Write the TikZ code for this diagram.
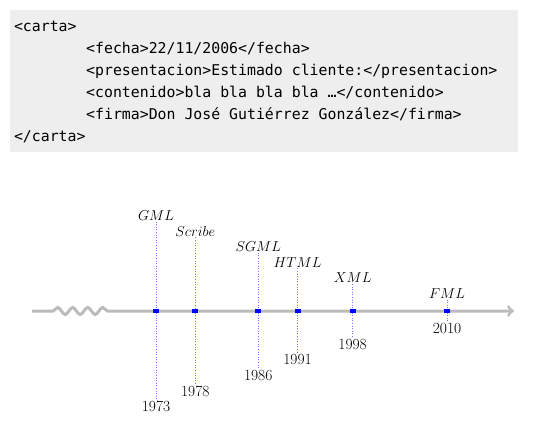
\documentclass[tikz,border=0pt]{standalone}
\usepackage{fontspec}
\setmonofont{DejaVu Sans Mono}
\usetikzlibrary{decorations.pathmorphing}
\definecolor{codebg}{HTML}{EEEEEE}
\definecolor{axisgray}{HTML}{BBBBBB}

\def\yAxis{311}
\def\xStart{32}
\def\xEnd{514}

\begin{document}
\begin{tikzpicture}[x=1pt, y=-1pt,
    codeline/.style={anchor=base west, inner sep=0pt, font=\fontsize{14.85}{18}\ttfamily},
    lang/.style={inner sep=1pt, font=\fontsize{15.5}{18}\selectfont},
    year/.style={inner sep=1pt, font=\fontsize{15.5}{18}\selectfont},
    tickline/.style={blue!55, dotted, line width=0.6pt}]
        \useasboundingbox (0,0) rectangle (555,439);
        % code block
        \fill[codebg] (10,10) rectangle (518,152);
        \node[codeline] (carta) at (13.8,31) {<carta>};
        \node[codeline] (fecha) at (86,53) {<fecha>22/11/2006</fecha>};
        \node[codeline] (pres) at (86,75) {<presentacion>Estimado cliente:</presentacion>};
        \node[codeline] (cont) at (86,97) {<contenido>bla bla bla bla …</contenido>};
        \node[codeline] (firma) at (86,119) {<firma>Don José Gutiérrez González</firma>};
        \node[codeline] (fin) at (13.8,141) {</carta>};
        % timeline
        \draw[axisgray, line width=3pt, ->] (\xStart,\yAxis) -- (53,\yAxis)
            decorate[decoration={snake, amplitude=3.5pt, segment length=15pt}] {-- (113,\yAxis)}
            -- (\xEnd,\yAxis);
        \foreach \yr/\lang/\k in {1973/GML/6, 1978/Scribe/5, 1986/SGML/4, 1991/HTML/3, 1998/XML/2, 2010/FML/1} {
            \pgfmathsetmacro\xx{156 + (\yr-1973)*7.865}
            \pgfmathsetmacro\off{15.6*\k + 1.9}
            \node[lang] (top\k) at (\xx,\yAxis-\off) {$\lang$};
            \node[year] (bot\k) at (\xx,\yAxis+\off) {\yr};
            \draw[tickline] (top\k.south) -- (bot\k.north);
            \fill[blue] (\xx-3,\yAxis-2) rectangle (\xx+3,\yAxis+2);
        }
\end{tikzpicture}
\end{document}
